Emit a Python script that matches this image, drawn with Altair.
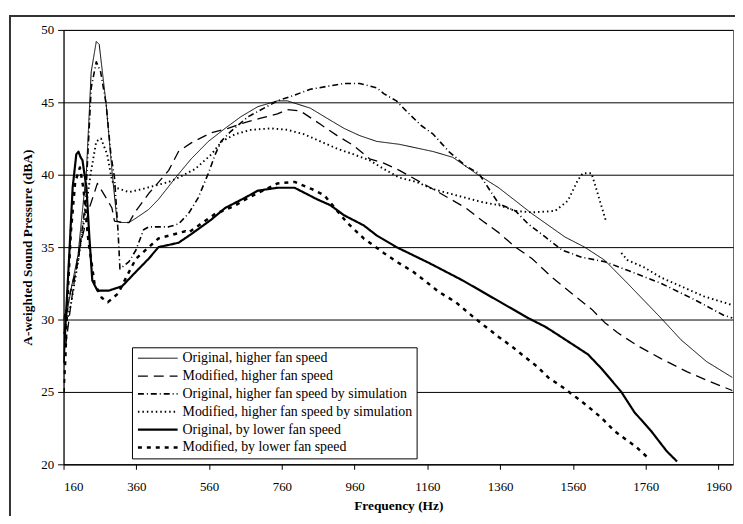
import altair as alt
import pandas as pd

# ---- data -------------------------------------------------------------------
names = [
    "Original, higher fan speed",
    "Modified, higher fan speed",
    "Original, higher fan speed by simulation",
    "Modified, higher fan speed by simulation",
    "Original, by lower fan speed",
    "Modified, by lower fan speed",
]

f1 = [160, 180, 200, 223, 236, 250, 258, 277, 293, 307, 320, 340, 359, 394, 421, 468, 511, 558, 604, 647, 694, 748,
      775, 838, 884, 931, 974, 1021, 1083, 1176, 1230, 1293, 1356, 1448, 1538, 1592, 1647, 1710, 1802, 1857, 1927, 1998]
v1 = [29, 32, 34.5, 40.3, 47.1, 49.2, 49.0, 44.9, 40.3, 36.8, 36.7, 36.7, 37.0, 37.6, 38.3, 39.8, 41.1, 42.3, 43.2,
      44.0, 44.7, 45.1, 45.1, 44.6, 43.9, 43.2, 42.7, 42.3, 42.1, 41.6, 41.2, 40.1, 39.1, 37.3, 35.7, 35.0, 34.1, 32.5,
      30.1, 28.6, 27.1, 26.0]

f2 = [160, 180, 200, 231, 253, 277, 293, 300, 320, 340, 359, 394, 449, 476, 511, 566, 612, 658, 702, 748, 775, 811,
      865, 912, 958, 1001, 1040, 1083, 1176, 1266, 1312, 1356, 1402, 1448, 1503, 1557, 1612, 1647, 1682, 1737, 1802,
      1873, 1938, 1998]
v2 = [27, 31, 34.5, 37.7, 39.4, 38.4, 37.7, 36.8, 36.7, 36.7, 37.5, 38.7, 40.3, 41.6, 42.2, 42.9, 43.2, 43.6, 43.9,
      44.2, 44.5, 44.4, 43.5, 42.7, 42.0, 41.1, 40.8, 40.3, 39.0, 37.7, 36.8, 36.0, 35.0, 34.2, 32.9, 31.8, 30.7, 29.8,
      29.1, 28.2, 27.3, 26.4, 25.7, 25.1]

f3 = [160, 180, 200, 220, 236, 250, 262, 277, 290, 300, 310, 315, 340, 359, 380, 394, 449, 476, 503, 530, 558, 577,
      593, 620, 667, 748, 795, 838, 884, 931, 974, 1021, 1040, 1075, 1102, 1143, 1176, 1219, 1266, 1301, 1356, 1402,
      1437, 1484, 1530, 1584, 1647, 1710, 1802, 1892, 1974, 1998]
v3 = [30, 32, 34, 38, 46.0, 47.8, 47.1, 44.9, 41.4, 39.8, 36.0, 33.5, 34.0, 34.8, 36.2, 36.4, 36.4, 36.6, 37.3, 38.4,
      40.1, 41.4, 42.3, 43.0, 44.0, 45.1, 45.5, 45.9, 46.1, 46.3, 46.3, 46.0, 45.6, 45.1, 44.4, 43.4, 42.8, 41.6, 40.6,
      40.1, 38.0, 37.5, 36.6, 35.7, 34.8, 34.3, 34.0, 33.4, 32.5, 31.4, 30.3, 30.1]

f4 = [160, 180, 200, 220, 236, 250, 263, 280, 293, 304, 340, 375, 449, 476, 522, 566, 595, 632, 675, 730, 775, 820,
      866, 912, 958, 1001, 1040, 1083, 1130, 1176, 1221, 1266, 1312, 1356, 1402, 1448, 1511, 1546, 1573, 1587, 1611,
      1628, 1652]
v4 = [29, 31, 34, 37.5, 40.3, 42.3, 42.5, 41.4, 39.6, 39.1, 38.8, 39.0, 39.5, 39.8, 40.4, 41.4, 42.3, 42.8, 43.1,
      43.2, 43.1, 42.8, 42.3, 41.8, 41.4, 41.0, 40.4, 39.8, 39.5, 39.0, 38.7, 38.4, 38.1, 37.9, 37.5, 37.4, 37.5, 38.2,
      39.6, 40.1, 40.1, 38.7, 36.7]
f4b = [1693, 1710, 1756, 1802, 1857, 1920, 1998]
v4b = [34.6, 34.1, 33.6, 32.9, 32.3, 31.6, 31.0]

f5 = [160, 168, 176, 185, 195, 201, 207, 212, 223, 231, 239, 253, 285, 321, 359, 394, 421, 476, 511, 566, 604, 658,
      694, 748, 795, 857, 893, 931, 985, 1021, 1075, 1165, 1257, 1347, 1437, 1484, 1503, 1546, 1601, 1639, 1693, 1729,
      1775, 1818, 1846]
v5 = [27, 30.9, 34.6, 39.1, 41.4, 41.6, 41.2, 41.0, 39.1, 35.7, 32.7, 32.0, 32.0, 32.3, 33.3, 34.2, 35.0, 35.3, 35.9,
      36.9, 37.7, 38.4, 38.9, 39.1, 39.1, 38.3, 37.9, 37.2, 36.5, 35.8, 35.0, 33.9, 32.7, 31.4, 30.1, 29.5, 29.2, 28.5,
      27.6, 26.6, 25.0, 23.6, 22.3, 20.9, 20.2]

f6 = [160, 165, 170, 180, 192, 205, 215, 228, 245, 265, 282, 310, 330, 359, 421, 495, 503, 577, 626, 667, 748, 795,
      843, 876, 939, 985, 1040, 1075, 1121, 1157, 1192, 1238, 1285, 1320, 1356, 1394, 1429, 1464, 1492, 1533, 1565,
      1601, 1639, 1674, 1701, 1734, 1764]
v6 = [25, 27.3, 31, 36, 39.5, 40.5, 39, 35.5, 32.5, 31.5, 31.2, 31.8, 32.8, 34.2, 35.6, 36.1, 36.0, 37.3, 37.8, 38.4,
      39.4, 39.5, 39.0, 38.6, 36.7, 35.6, 34.6, 34.0, 33.3, 32.6, 31.9, 31.2, 30.2, 29.5, 28.8, 28.1, 27.4, 26.7, 26.0,
      25.3, 24.7, 24.0, 23.2, 22.3, 21.8, 21.2, 20.5]

x_ticks = [160, 360, 560, 760, 960, 1160, 1360, 1560, 1760, 1960]
y_ticks = [20, 25, 30, 35, 40, 45, 50]

# ---- styles ---------------------------------------------------------------
dashes = [[1, 0], [10, 6], [6, 3, 1, 3], [1.5, 3], [1, 0], [4, 5]]
widths = [1, 2.5, 1, 1.2, 2.5, 3]

rows = []
for name, seg, fs, vs in [
    (names[0], "a", f1, v1), (names[1], "a", f2, v2), (names[2], "a", f3, v3),
    (names[3], "a", f4, v4), (names[3], "b", f4b, v4b),
    (names[4], "a", f5, v5), (names[5], "a", f6, v6),
]:
    for f, v in zip(fs, vs):
        rows.append({"series": name, "seg": name + seg, "freq": f, "spl": v})
df = pd.DataFrame(rows)

FONT = "Liberation Serif"

legend = alt.Legend(
    title=None, orient="none", legendX=69, legendY=320,
    fillColor="white", strokeColor="black", padding=4,
    labelFont=FONT, labelFontSize=14, labelColor="black", labelLimit=400,
    symbolType="M-1,0H7", symbolSize=100, symbolStrokeColor="black",
    labelOffset=33, rowPadding=4,
)

lines = alt.Chart(df).mark_line(color="black", clip=True, strokeJoin="round").encode(
    x=alt.X("freq:Q", scale=alt.Scale(domain=[160, 2000], nice=False, zero=False),
            axis=alt.Axis(values=x_ticks, format="d", title="Frequency (Hz)", grid=False,
                          tickSize=5, labelPadding=11, titlePadding=6)),
    y=alt.Y("spl:Q", scale=alt.Scale(domain=[20, 50], nice=False, zero=False),
            axis=alt.Axis(values=y_ticks, format="d", title="A-weighted Sound Pressure (dBA)",
                          grid=True, gridColor="black", gridWidth=1, gridOpacity=1,
                          tickSize=6, labelPadding=4, titlePadding=6)),
    strokeDash=alt.StrokeDash("series:N", scale=alt.Scale(domain=names, range=dashes), legend=legend),
    strokeWidth=alt.StrokeWidth("series:N", scale=alt.Scale(domain=names, range=widths), legend=legend),
    detail="seg:N",
)

frame = alt.Chart(pd.DataFrame({"k": [0]})).mark_rect(
    fill=None, stroke="#333", strokeWidth=2, clip=False
).encode(
    x=alt.value(-54), x2=alt.value(720), y=alt.value(-14), y2=alt.value(560)
)

chart = alt.layer(lines, frame).properties(
    width=675, height=438,
    autosize=alt.AutoSizeParams(type="none"),
    padding={"left": 56, "top": 20, "right": 2, "bottom": 50},
).configure_view(
    stroke="#666", strokeWidth=1
).configure_axis(
    labelFont=FONT, labelFontSize=13, labelColor="black",
    titleFont=FONT, titleFontSize=13.5, titleFontWeight="bold", titleColor="black",
    domainColor="black", tickColor="black", domainWidth=1,
)

chart.save("out.html", embed_options={"renderer": "svg", "actions": False})
